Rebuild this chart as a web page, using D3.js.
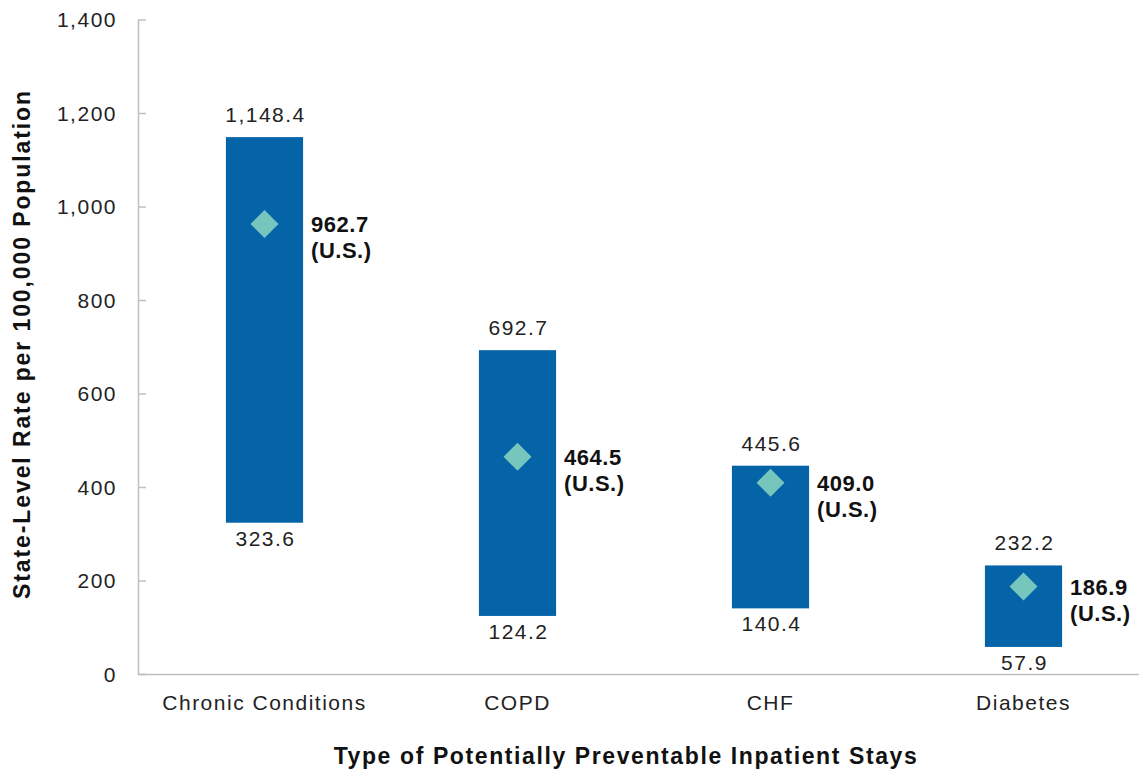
<!DOCTYPE html>
<html>
<head>
<meta charset="utf-8">
<script src="https://cdn.jsdelivr.net/npm/d3@7"></script>
<style>
  html, body { margin: 0; padding: 0; background: #fff; }
  svg { display: block; font-family: "Liberation Sans", Arial, sans-serif; }
</style>
</head>
<body>
<svg id="chart" width="1139" height="769"></svg>
<script>
const categories = ["Chronic Conditions", "COPD", "CHF", "Diabetes"];
const maxValues = [1148.4, 692.7, 445.6, 232.2];
const minValues = [323.6, 124.2, 140.4, 57.9];
const usValues = [962.7, 464.5, 409.0, 186.9];
const yTicks = [0, 200, 400, 600, 800, 1000, 1200, 1400];
const yTitle = "State-Level Rate per 100,000 Population";
const xTitle = "Type of Potentially Preventable Inpatient Stays";

const svg = d3.select("#chart");
const fmt = d3.format(",.1f");

const x = d3.scaleBand().domain(categories).range([138, 1150]).padding(0);
const y = d3.scaleLinear().domain([0, 1400]).range([674, 19.5]);

const axisColor = "#bfbfbf";
const textColor = "#222";

// Y axis
const yAxis = svg.append("g").attr("transform", "translate(138,0)")
  .call(d3.axisLeft(y).tickValues(yTicks).tickSizeInner(-8).tickSizeOuter(0).tickPadding(21)
    .tickFormat(d3.format(",")));
yAxis.select(".domain").attr("stroke", axisColor).attr("stroke-width", 1.5);
yAxis.selectAll(".tick line").attr("stroke", axisColor).attr("stroke-width", 1.5);
yAxis.selectAll(".tick text").attr("font-size", 21).attr("fill", textColor)
  .style("letter-spacing", "1.5px").attr("dy", "0.35em");

// X axis
const xAxis = svg.append("g").attr("transform", `translate(0,${y(0)})`)
  .call(d3.axisBottom(x).tickSize(0).tickPadding(21));
xAxis.select(".domain").attr("stroke", axisColor).attr("stroke-width", 1.5);
xAxis.selectAll(".tick text").attr("font-size", 21).attr("fill", textColor)
  .style("letter-spacing", "1.5px");

const data = categories.map((c, i) => ({ c, max: maxValues[i], min: minValues[i], us: usValues[i] }));
const bw = x.bandwidth() * 0.305;
const cx = d => x(d.c) + x.bandwidth() / 2;

// Bars
svg.append("g").selectAll("rect").data(data).join("rect")
  .attr("x", d => cx(d) - bw / 2)
  .attr("width", bw)
  .attr("y", d => y(d.max))
  .attr("height", d => y(d.min) - y(d.max))
  .attr("fill", "#0563a8");

// Diamonds
svg.append("g").selectAll("path").data(data).join("path")
  .attr("d", "M0,-14L14,0L0,14L-14,0Z")
  .attr("transform", d => `translate(${cx(d)},${y(d.us)})`)
  .attr("fill", "#76c6bd");

// Top labels
svg.append("g").selectAll("text").data(data).join("text")
  .attr("x", d => cx(d) + 1)
  .attr("y", d => y(d.max) - 15)
  .attr("text-anchor", "middle")
  .attr("font-size", 21).attr("fill", textColor).style("letter-spacing", "1.5px")
  .text(d => fmt(d.max));

// Bottom labels
svg.append("g").selectAll("text").data(data).join("text")
  .attr("x", d => cx(d) + 1)
  .attr("y", d => y(d.min) + 23)
  .attr("text-anchor", "middle")
  .attr("font-size", 21).attr("fill", textColor).style("letter-spacing", "1.5px")
  .text(d => fmt(d.min));

// US labels
const us = svg.append("g").selectAll("text").data(data).join("text")
  .attr("x", d => cx(d) + bw / 2 + 8)
  .attr("y", d => y(d.us) + 8)
  .attr("font-size", 22).attr("font-weight", "bold").attr("fill", "#111")
  .style("letter-spacing", "0.5px");
us.append("tspan").text(d => fmt(d.us));
us.append("tspan").attr("x", d => cx(d) + bw / 2 + 8).attr("dy", 26).text("(U.S.)");

// Axis titles
svg.append("text")
  .attr("x", 626).attr("y", 764)
  .attr("text-anchor", "middle")
  .attr("font-size", 23).attr("font-weight", "bold").attr("fill", "#111")
  .style("letter-spacing", "1.6px")
  .text(xTitle);

svg.append("text")
  .attr("transform", "translate(30,344) rotate(-90)")
  .attr("text-anchor", "middle")
  .attr("font-size", 23).attr("font-weight", "bold").attr("fill", "#111")
  .style("letter-spacing", "1.9px")
  .text(yTitle);
</script>
</body>
</html>
